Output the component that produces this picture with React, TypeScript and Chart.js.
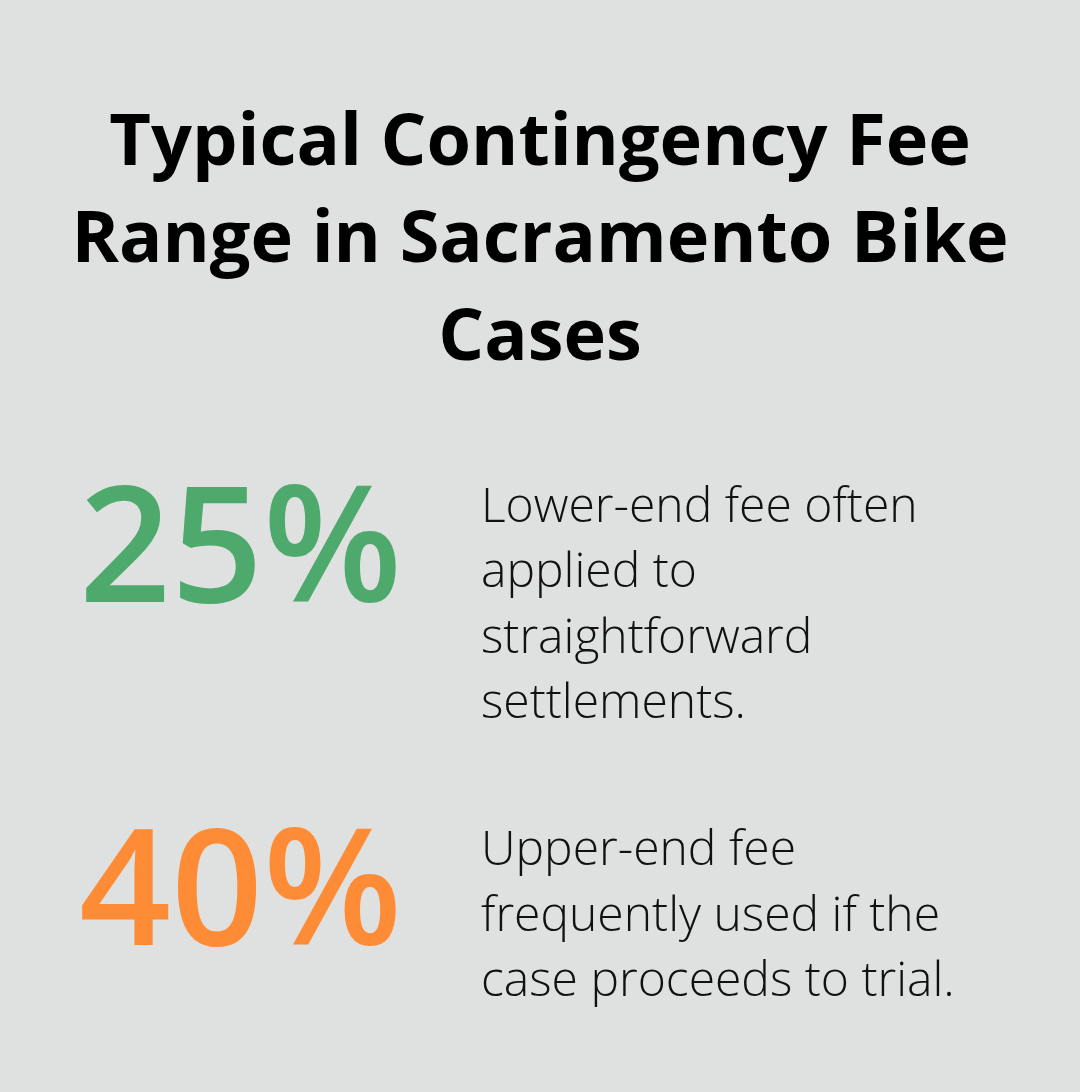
import React, { useEffect, useRef } from "react";
import { Chart, registerables } from "chart.js";

Chart.register(...registerables);

const titleLines = ["Typical Contingency Fee", "Range in Sacramento Bike", "Cases"];
const statValues = [25, 40];
const statColors = ["#4ea96c", "#fe8c36"];
const statDescriptions = [
  "Lower-end fee often applied to straightforward settlements.",
  "Upper-end fee frequently used if the case proceeds to trial.",
];

const BG = "#dfe1e0";
const FONT = '"Open Sans", "Noto Sans", sans-serif';

function wrap(ctx: CanvasRenderingContext2D, text: string, maxW: number): string[] {
  const words = text.split(" ");
  const lines: string[] = [];
  let cur = "";
  for (const w of words) {
    const test = cur ? cur + " " + w : w;
    if (ctx.measureText(test).width > maxW && cur) {
      lines.push(cur);
      cur = w;
    } else {
      cur = test;
    }
  }
  if (cur) lines.push(cur);
  return lines;
}

const statPlugin = {
  id: "statBlocks",
  beforeDraw(chart: any) {
    const { ctx, width, height } = chart;
    ctx.save();
    ctx.fillStyle = BG;
    ctx.fillRect(0, 0, width, height);
    ctx.restore();
  },
  afterDraw(chart: any) {
    const ctx: CanvasRenderingContext2D = chart.ctx;
    const yScale = chart.scales.y;
    ctx.save();
    ctx.textAlign = "left";
    ctx.textBaseline = "alphabetic";
    statValues.forEach((v, i) => {
      const cy = yScale.getPixelForValue(i);
      ctx.fillStyle = statColors[i];
      ctx.font = `600 161px ${FONT}`;
      ctx.fillText(`${v}%`, 79, cy + 57);
      ctx.fillStyle = "#111111";
      ctx.font = `300 48px ${FONT}`;
      const lines = wrap(ctx, statDescriptions[i], 490);
      lines.forEach((l, j) => {
        ctx.fillText(l, 481, cy - 23 + j * 65.5);
      });
    });
    ctx.restore();
  },
};

export default function App() {
  const canvasRef = useRef<HTMLCanvasElement | null>(null);

  useEffect(() => {
    document.body.style.margin = "0";
    document.body.style.background = BG;
    const canvas = canvasRef.current;
    if (!canvas) return;
    const chart = new Chart(canvas, {
      type: "scatter",
      data: {
        labels: statValues.map((v) => `${v}%`),
        datasets: [],
      },
      options: {
        animation: false,
        responsive: true,
        maintainAspectRatio: false,
        layout: { padding: { top: 0, bottom: 204, left: 0, right: 0 } },
        scales: {
          x: { type: "linear", display: false, min: 0, max: 1 },
          y: {
            type: "category",
            labels: statValues.map((v) => `${v}%`),
            offset: false,
            display: false,
          },
        },
        plugins: {
          legend: { display: false },
          tooltip: { enabled: false },
          title: {
            display: true,
            text: titleLines,
            color: "#000000",
            align: "center",
            font: { family: FONT, size: 72, weight: "bold", lineHeight: 1.35 },
            padding: { top: 96, bottom: 157 },
          },
        },
      },
      plugins: [statPlugin],
    });
    return () => chart.destroy();
  }, []);

  return (
    <div style={{ width: 1080, height: 1092, position: "relative", background: BG }}>
      <canvas ref={canvasRef} />
    </div>
  );
}
